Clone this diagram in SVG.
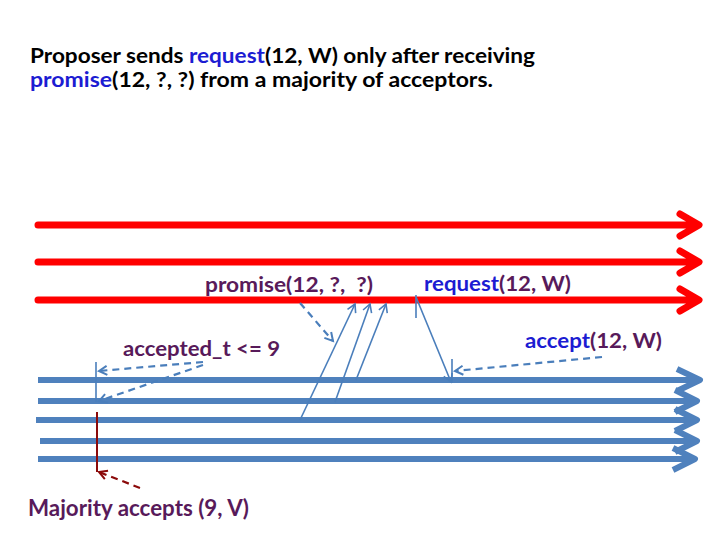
<svg xmlns="http://www.w3.org/2000/svg" width="720" height="540" viewBox="0 0 720 540">
<defs>
<style>
.t{font-family:Lato,"Open Sans","Liberation Sans",sans-serif;font-weight:bold;white-space:pre}
.blk{fill:#000}
.pur{fill:#581a5a}
.blu{fill:#1c1cd2}
.red{stroke:#ff0000;stroke-width:7;fill:none;stroke-linecap:round;stroke-linejoin:round}
.bl{stroke:#4f81bd;stroke-width:6;fill:none;stroke-linejoin:round}
.thin{stroke:#4a7ebb;stroke-width:1.6;fill:none}
.dash{stroke:#4a7ebb;stroke-width:2.2;fill:none;stroke-dasharray:7 5}
.dred{stroke:#8b0a0a;stroke-width:2;fill:none}
.dreddash{stroke:#8b0a0a;stroke-width:2.2;fill:none;stroke-dasharray:7 5}
</style>
<marker id="ah" markerUnits="userSpaceOnUse" markerWidth="12" markerHeight="12" refX="9" refY="5" orient="auto" viewBox="0 0 12 10">
<path d="M1,0.5 L9,5 L1,9.5" fill="none" stroke="#4a7ebb" stroke-width="1.6"/>
</marker>
<marker id="ahd" markerUnits="userSpaceOnUse" markerWidth="12" markerHeight="12" refX="9" refY="5" orient="auto" viewBox="0 0 12 10">
<path d="M1,0.5 L9,5 L1,9.5" fill="none" stroke="#4a7ebb" stroke-width="2"/>
</marker>
<marker id="ahr" markerUnits="userSpaceOnUse" markerWidth="12" markerHeight="12" refX="9" refY="5" orient="auto" viewBox="0 0 12 10">
<path d="M1,0.5 L9,5 L1,9.5" fill="none" stroke="#8b0a0a" stroke-width="2"/>
</marker>
</defs>
<rect width="720" height="540" fill="#ffffff"/>

<g id="title">
<text class="t blk" x="30" y="63" font-size="21.5" textLength="505" lengthAdjust="spacingAndGlyphs">Proposer sends <tspan class="blu">request</tspan>(12, W) only after receiving</text>
<text class="t blk" x="30" y="87" font-size="21.5" textLength="463" lengthAdjust="spacingAndGlyphs"><tspan class="blu">promise</tspan>(12, ?, ?) from a majority of acceptors.</text>
</g>

<g id="proposers">
<path class="red" d="M38,225 H697 M680,214 L699,225 L680,236"/>
<path class="red" d="M38,262 H697 M680,251 L699,262 L680,273"/>
<path class="red" d="M38,300 H697 M680,289 L699,300 L680,311"/>
</g>

<g id="acceptors">
<path class="bl" d="M38,380 H698 M677,369 L700,380 L677,391"/>
<path class="bl" d="M38,401 H695 M675,390 L697,401 L675,412"/>
<path class="bl" d="M36,420 H695 M675,409 L697,420 L675,431"/>
<path class="bl" d="M40,441 H695 M675,430 L697,441 L675,452"/>
<path class="bl" d="M38,459 H693 M673,448 L695,459 L673,470"/>
</g>

<g id="connectors">
<line class="thin" x1="300" y1="420" x2="355" y2="304" marker-end="url(#ah)"/>
<line class="thin" x1="335" y1="402" x2="370" y2="304" marker-end="url(#ah)"/>
<line class="thin" x1="356" y1="380" x2="386" y2="304" marker-end="url(#ah)"/>
<line class="thin" x1="416" y1="295" x2="416" y2="318"/>
<line class="thin" x1="416" y1="297" x2="451" y2="382" marker-end="url(#ah)"/>
<line class="thin" x1="452" y1="359" x2="452" y2="383"/>
<line class="dash" x1="602" y1="357" x2="455" y2="371" marker-end="url(#ahd)"/>
<line class="dash" x1="300" y1="303" x2="333" y2="341" marker-end="url(#ahd)"/>
<line class="thin" x1="96" y1="362" x2="96" y2="402"/>
<line class="dash" x1="203" y1="362" x2="99" y2="371" marker-end="url(#ahd)"/>
<line class="dash" x1="203" y1="365" x2="99" y2="401" marker-end="url(#ahd)"/>
<line class="dred" x1="97" y1="412" x2="97" y2="472"/>
<line class="dreddash" x1="140" y1="488" x2="99" y2="472" marker-end="url(#ahr)"/>
</g>

<g id="labels">
<text class="t pur" x="205" y="292" font-size="20" textLength="168" lengthAdjust="spacingAndGlyphs">promise(12, ?,  ?)</text>
<text class="t pur" x="424" y="291" font-size="20" textLength="147" lengthAdjust="spacingAndGlyphs"><tspan class="blu">request</tspan>(12, W)</text>
<text class="t pur" x="123" y="356" font-size="20" textLength="157" lengthAdjust="spacingAndGlyphs">accepted_t &lt;= 9</text>
<text class="t pur" x="525" y="348" font-size="20" textLength="137" lengthAdjust="spacingAndGlyphs"><tspan class="blu">accept</tspan>(12, W)</text>
<text class="t pur" x="28" y="516" font-size="23" textLength="221" lengthAdjust="spacingAndGlyphs">Majority accepts (9, V)</text>
</g>
</svg>
